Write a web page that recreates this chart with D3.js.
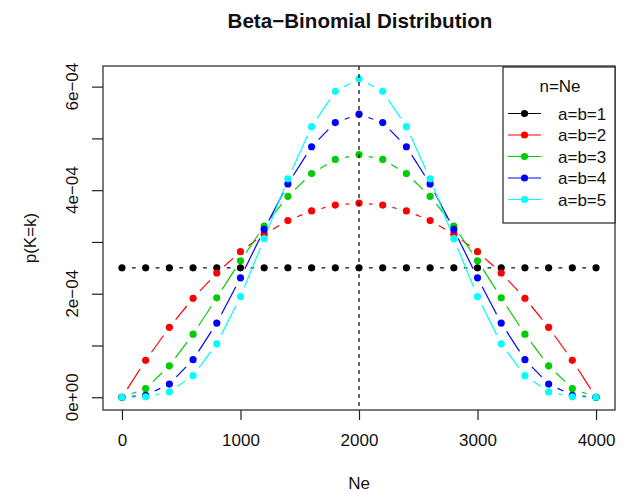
<!DOCTYPE html>
<html><head><meta charset="utf-8">
<script src="https://cdn.jsdelivr.net/npm/d3@7"></script>
<style>body{margin:0;background:#fff}svg{display:block}text{font-family:"Liberation Sans",Arial,Helvetica,sans-serif}</style>
</head><body>
<svg id="c" width="630" height="494"></svg>
<script>
const Ne = [0,200,400,600,800,1000,1200,1400,1600,1800,2000,2200,2400,2600,2800,3000,3200,3400,3600,3800,4000];
const ab1 = [2.4994,2.4994,2.4994,2.4994,2.4994,2.4994,2.4994,2.4994,2.4994,2.4994,2.4994,2.4994,2.4994,2.4994,2.4994,2.4994,2.4994,2.4994,2.4994,2.4994,2.4994];
const ab2 = [0.0004,0.7125,1.35,1.9125,2.4,2.8125,3.15,3.4125,3.6,3.7125,3.75,3.7125,3.6,3.4125,3.15,2.8125,2.4,1.9125,1.35,0.7125,0.0004];
const ab3 = [0.0000,0.1692,0.6075,1.2192,1.92,2.6367,3.3075,3.8817,4.32,4.5942,4.6875,4.5942,4.32,3.8817,3.3075,2.6367,1.92,1.2192,0.6075,0.1692,0.0000];
const ab4 = [0.0000,0.0375,0.2552,0.7254,1.4336,2.3071,3.2414,4.1210,4.8384,5.3063,5.4688,5.3063,4.8384,4.1210,3.2414,2.3071,1.4336,0.7254,0.2552,0.0375,0.0000];
const ab5 = [0.0000,0.0080,0.1033,0.4162,1.0322,1.9466,3.0631,4.2189,5.2255,5.9099,6.1523,5.9099,5.2255,4.2189,3.0631,1.9466,1.0322,0.4162,0.1033,0.0080,0.0000];
const seriesNames = ["a=b=1","a=b=2","a=b=3","a=b=4","a=b=5"];
const seriesColors = ["#000000","#FF0000","#00CD00","#0000FF","#00FFFF"];
const xTicks = [0,1000,2000,3000,4000];
const yTicks = [0,1e-4,2e-4,3e-4,4e-4,5e-4,6e-4];
const yTickLabels = {0:"0e+00",2:"2e\u221204",4:"4e\u221204",6:"6e\u221204"};
const vLineX = 2000;

const series = [ab1,ab2,ab3,ab4,ab5].map(a=>a.map(v=>v*1e-4));
const L=103, R=615, T=66, B=410;
const svg = d3.select("#c");
const x = d3.scaleLinear().domain([-160,4160]).range([L,R]);
const ymax = d3.max(series.flat());
const y = d3.scaleLinear().domain([-0.04*ymax, 1.04*ymax]).range([B,T]);

// series
const gap = 10;
series.forEach((s,i)=>{
  const g = svg.append("g");
  const pts = s.map((v,j)=>[x(Ne[j]),y(v)]);
  for(let j=0;j<pts.length-1;j++){
    const [x1,y1]=pts[j],[x2,y2]=pts[j+1];
    const dx=x2-x1,dy=y2-y1,len=Math.hypot(dx,dy);
    if(len>2*gap){
      const ux=dx/len,uy=dy/len;
      g.append("line").attr("x1",x1+ux*gap).attr("y1",y1+uy*gap)
        .attr("x2",x2-ux*gap).attr("y2",y2-uy*gap)
        .attr("stroke",seriesColors[i]).attr("stroke-width",1.2);
    }
  }
  g.selectAll("circle").data(pts).join("circle")
    .attr("cx",d=>d[0]).attr("cy",d=>d[1]).attr("r",3.6).attr("fill",seriesColors[i]);
});

// vertical line
svg.append("line").attr("x1",x(vLineX)).attr("x2",x(vLineX)).attr("y1",T).attr("y2",B)
  .attr("stroke","#000").attr("stroke-width",1.2).attr("stroke-dasharray","4,4");

// box
svg.append("rect").attr("x",L).attr("y",T).attr("width",R-L).attr("height",B-T)
  .attr("fill","none").attr("stroke","#222").attr("stroke-width",1.2);

// x axis
const xa = svg.append("g").attr("transform",`translate(0,${B})`)
  .call(d3.axisBottom(x).tickValues(xTicks).tickSize(10).tickPadding(14).tickFormat(d3.format("d")));
xa.select(".domain").remove();
xa.selectAll("line").attr("stroke","#222").attr("stroke-width",1.2);
xa.selectAll("text").attr("font-size",17).attr("fill","#111").attr("font-family",'"Liberation Sans",Arial,sans-serif');

// y axis
const ya = svg.append("g").attr("transform",`translate(${L},0)`)
  .call(d3.axisLeft(y).tickValues(yTicks).tickSize(11).tickFormat(""));
ya.select(".domain").remove();
ya.selectAll("line").attr("stroke","#222").attr("stroke-width",1.2);
yTicks.forEach((t,i)=>{
  if(yTickLabels[i]!==undefined){
    svg.append("text").attr("transform",`translate(78,${y(t)}) rotate(-90)`)
      .attr("text-anchor","middle").attr("font-size",17).attr("fill","#111").text(yTickLabels[i]);
  }
});

// labels
svg.append("text").attr("x",(L+R)/2+1).attr("y",28).attr("text-anchor","middle")
  .attr("font-size",20.6).attr("font-weight","bold").attr("fill","#111").text("Beta\u2212Binomial Distribution");
svg.append("text").attr("x",(L+R)/2).attr("y",489).attr("text-anchor","middle")
  .attr("font-size",17).attr("fill","#111").text("Ne");
svg.append("text").attr("transform",`translate(36,238) rotate(-90)`).attr("text-anchor","middle")
  .attr("font-size",17).attr("fill","#111").text("p(K=k)");

// legend
const lg = svg.append("g");
lg.append("rect").attr("x",503).attr("y",67).attr("width",R-503).attr("height",156)
  .attr("fill","#fff").attr("stroke","#222").attr("stroke-width",1.2);
lg.append("text").attr("x",560).attr("y",92).attr("text-anchor","middle").attr("font-size",17).attr("fill","#111").text("n=Ne");
seriesNames.forEach((n,i)=>{
  const yy = 113.5 + i*21.5;
  lg.append("line").attr("x1",508).attr("x2",541).attr("y1",yy).attr("y2",yy)
    .attr("stroke",seriesColors[i]).attr("stroke-width",1.2);
  lg.append("circle").attr("cx",524.5).attr("cy",yy).attr("r",3.6).attr("fill",seriesColors[i]);
  lg.append("text").attr("x",558).attr("y",yy+6).attr("font-size",17).attr("fill","#111").text(n);
});
</script>
</body></html>
